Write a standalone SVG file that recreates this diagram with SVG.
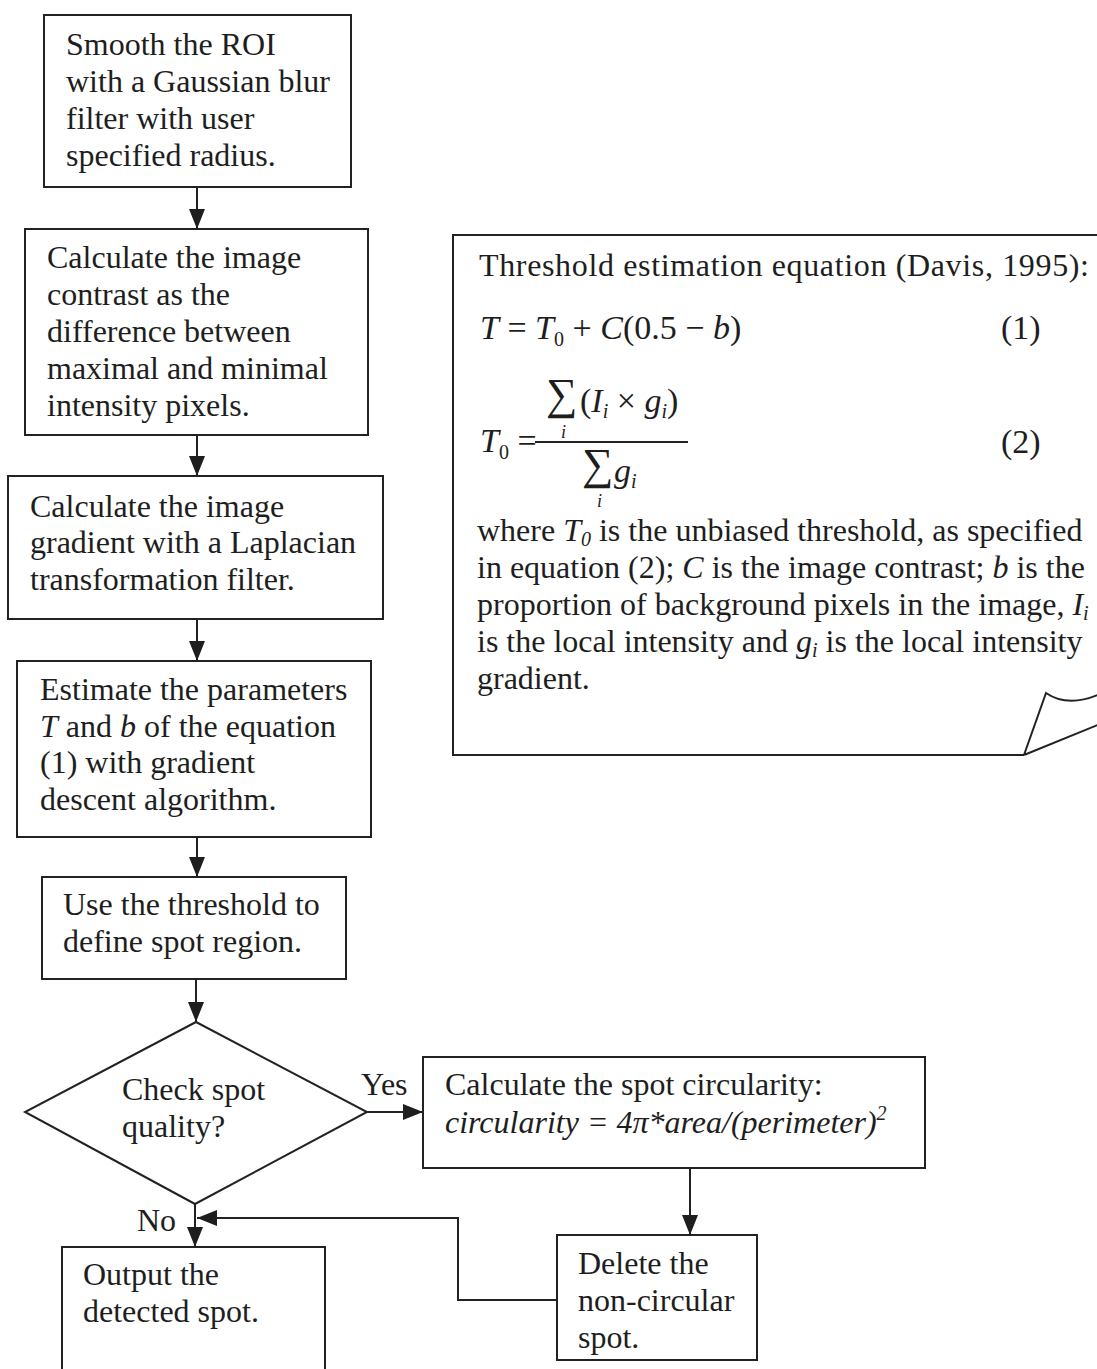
<svg xmlns="http://www.w3.org/2000/svg" width="1097" height="1369" viewBox="0 0 1097 1369">
<style>
.t{font-family:"Liberation Serif","Times New Roman",serif;font-size:32px;fill:#1e1e1e}
.e{font-size:34px}
.i{font-style:italic}
.box{fill:none;stroke:#222;stroke-width:2}
.c{fill:none;stroke:#222;stroke-width:2}
.s{font-size:20px}
.u{font-size:18px}
.sum{font-size:44px}
</style>
<defs>
<marker id="arr" viewBox="0 0 20 16" refX="20" refY="8" markerWidth="20" markerHeight="16" orient="auto" markerUnits="userSpaceOnUse">
<path d="M0,0 L20,8 L0,16 z" fill="#1e1e1e"/>
</marker>
</defs>
<rect width="1097" height="1369" fill="#fff"/>

<g id="n1">
<rect class="box" x="44" y="15" width="307" height="172"/>
<text class="t" x="66" y="55">Smooth the ROI</text>
<text class="t" x="66" y="92">with a Gaussian blur</text>
<text class="t" x="66" y="129">filter with user</text>
<text class="t" x="66" y="166">specified radius.</text>
</g>

<g id="n2">
<rect class="box" x="25" y="229" width="343" height="206"/>
<text class="t" x="47" y="268">Calculate the image</text>
<text class="t" x="47" y="305">contrast as the</text>
<text class="t" x="47" y="342">difference between</text>
<text class="t" x="47" y="379">maximal and minimal</text>
<text class="t" x="47" y="416">intensity pixels.</text>
</g>

<g id="n3">
<rect class="box" x="8" y="476" width="375" height="143"/>
<text class="t" x="30" y="517">Calculate the image</text>
<text class="t" x="30" y="553">gradient with a Laplacian</text>
<text class="t" x="30" y="590">transformation filter.</text>
</g>

<g id="n4">
<rect class="box" x="17" y="661" width="354" height="176"/>
<text class="t" x="40" y="700">Estimate the parameters</text>
<text class="t" x="40" y="737"><tspan class="i">T</tspan> and <tspan class="i">b</tspan> of the equation</text>
<text class="t" x="40" y="773">(1) with gradient</text>
<text class="t" x="40" y="810">descent algorithm.</text>
</g>

<g id="n5">
<rect class="box" x="42" y="877" width="304" height="102"/>
<text class="t" x="63" y="915">Use the threshold to</text>
<text class="t" x="63" y="952">define spot region.</text>
</g>

<g id="n6">
<path class="box" d="M196,1022 L367,1112 L195,1204 L25,1112 Z"/>
<text class="t" x="122" y="1100">Check spot</text>
<text class="t" x="122" y="1137">quality?</text>
</g>

<g id="n7">
<rect class="box" x="423" y="1057" width="502" height="111"/>
<text class="t" x="445" y="1095">Calculate the spot circularity:</text>
<text class="t i" x="445" y="1133">circularity = 4π*area/(perimeter)<tspan class="s" dy="-13">2</tspan></text>
</g>

<g id="n8">
<rect class="box" x="557" y="1235" width="200" height="125"/>
<text class="t" x="578" y="1274">Delete the</text>
<text class="t" x="578" y="1311">non-circular</text>
<text class="t" x="578" y="1348">spot.</text>
</g>

<g id="n9">
<path class="box" d="M62,1375 V1247 H325 V1375"/>
<text class="t" x="83" y="1285">Output the</text>
<text class="t" x="83" y="1322">detected spot.</text>
</g>

<g id="note">
<path class="box" d="M1100,235 H453 V755 H1024"/>
<path class="box" d="M1024,755 L1046,693 Q1068,708 1100,694 M1024,755 L1100,724"/>
<text class="t" x="479" y="276" textLength="610" lengthAdjust="spacing">Threshold estimation equation (Davis, 1995):</text>
<text class="t e" x="480" y="339"><tspan class="i">T</tspan> = <tspan class="i">T</tspan><tspan class="s" dy="7">0</tspan><tspan dy="-7"> + </tspan><tspan class="i">C</tspan>(0.5 − <tspan class="i">b</tspan>)</text>
<text class="t e" x="1001" y="339">(1)</text>
<text class="t e" x="480" y="452"><tspan class="i">T</tspan><tspan class="s" dy="7">0</tspan><tspan dy="-7"> =</tspan></text>
<line class="c" x1="535" y1="442" x2="688" y2="442"/>
<text class="t sum" x="546" y="409">∑</text>
<text class="t e" x="580" y="412">(<tspan class="i">I</tspan><tspan class="s i" dy="6">i</tspan><tspan dy="-6"> × </tspan><tspan class="i">g</tspan><tspan class="s i" dy="6">i</tspan><tspan dy="-6">)</tspan></text>
<text class="t u i" x="561" y="438">i</text>
<text class="t sum" x="582" y="479">∑</text>
<text class="t e i" x="614" y="482">g<tspan class="s" dy="6">i</tspan></text>
<text class="t u i" x="597" y="507">i</text>
<text class="t e" x="1001" y="453">(2)</text>
<text class="t" x="477" y="541">where <tspan class="i">T</tspan><tspan class="s i" dy="5">0</tspan><tspan dy="-5"> is the unbiased threshold, as specified</tspan></text>
<text class="t" x="477" y="578">in equation (2); <tspan class="i">C</tspan> is the image contrast; <tspan class="i">b</tspan> is the</text>
<text class="t" x="477" y="615">proportion of background pixels in the image, <tspan class="i">I</tspan><tspan class="s i" dy="5">i</tspan></text>
<text class="t" x="477" y="652">is the local intensity and <tspan class="i">g</tspan><tspan class="s i" dy="5">i</tspan><tspan dy="-5"> is the local intensity</tspan></text>
<text class="t" x="477" y="689">gradient.</text>
</g>

<g id="connectors">
<line class="c" x1="197" y1="187" x2="197" y2="229" marker-end="url(#arr)"/>
<line class="c" x1="197" y1="435" x2="197" y2="476" marker-end="url(#arr)"/>
<line class="c" x1="197" y1="619" x2="197" y2="661" marker-end="url(#arr)"/>
<line class="c" x1="197" y1="837" x2="197" y2="877" marker-end="url(#arr)"/>
<line class="c" x1="196" y1="979" x2="196" y2="1022" marker-end="url(#arr)"/>
<line class="c" x1="367" y1="1112" x2="423" y2="1112" marker-end="url(#arr)"/>
<line class="c" x1="195" y1="1204" x2="195" y2="1247" marker-end="url(#arr)"/>
<line class="c" x1="690" y1="1168" x2="690" y2="1235" marker-end="url(#arr)"/>
<path class="c" d="M557,1300 H458 V1218 H197" marker-end="url(#arr)"/>
<text class="t" x="361" y="1095">Yes</text>
<text class="t" x="137" y="1231">No</text>
</g>
</svg>
